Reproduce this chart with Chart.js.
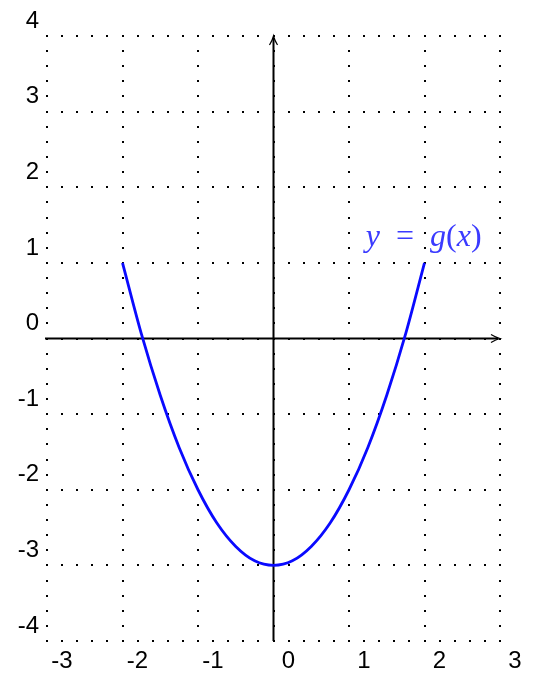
<!DOCTYPE html>
<html>
<head>
<meta charset="utf-8">
<script src="https://cdn.jsdelivr.net/npm/chart.js@4.4.0/dist/chart.umd.min.js"></script>
<style>
    html, body { margin: 0; padding: 0; background: #fff; }
    canvas { display: block; }
</style>
</head>
<body>
<canvas id="plot" width="534" height="675"></canvas>
<script>
// curve points
const xValues = [-2, -1.75, -1.5, -1.25, -1, -0.75, -0.5, -0.25, 0, 0.25, 0.5, 0.75, 1, 1.25, 1.5, 1.75, 2];
const yValues = [1, 0.06, -0.75, -1.44, -2, -2.44, -2.75, -2.94, -3, -2.94, -2.75, -2.44, -2, -1.44, -0.75, 0.06, 1];

// axis ranges / tick labels
const xTicks = [-3, -2, -1, 0, 1, 2, 3];
const yTicks = [-4, -3, -2, -1, 0, 1, 2, 3, 4];
const curveLabel = [['y', true], ['\u2002=\u2002', false], ['g', true], ['(', false], ['x', true], [')', false]];
const labelAt = { x: 1.99, y: 1.22 };

const CURVE_COLOR = '#0a0aff';
const LABEL_COLOR = '#3a3aff';

// dotted grid + axes with arrows
const gridAndAxes = {
    id: 'gridAndAxes',
    beforeDatasetsDraw(chart) {
        const { ctx, scales: { x, y } } = chart;
        ctx.save();
        ctx.fillStyle = '#000';
        // dots every 0.2 units along each grid line
        xTicks.forEach(tx => {
            const px = x.getPixelForValue(tx);
            for (let v = yTicks[0] * 5; v <= yTicks[yTicks.length - 1] * 5; v++) {
                const py = y.getPixelForValue(v / 5);
                ctx.fillRect(Math.round(px) - 1, Math.round(py) - 1, 2, 2);
            }
        });
        yTicks.forEach(ty => {
            const py = y.getPixelForValue(ty);
            for (let v = xTicks[0] * 5; v <= xTicks[xTicks.length - 1] * 5; v++) {
                const px = x.getPixelForValue(v / 5);
                ctx.fillRect(Math.round(px) - 1, Math.round(py) - 1, 2, 2);
            }
        });

        const x0 = x.getPixelForValue(0);
        const y0 = y.getPixelForValue(0);
        const left = x.getPixelForValue(-3) - 2;
        const right = x.getPixelForValue(3);
        const top = y.getPixelForValue(4);
        const bottom = y.getPixelForValue(-4);

        ctx.strokeStyle = '#000';
        ctx.lineWidth = 2;
        ctx.beginPath();
        ctx.moveTo(left, y0);
        ctx.lineTo(right - 2, y0);
        ctx.moveTo(x0, bottom);
        ctx.lineTo(x0, top + 2);
        ctx.stroke();

        // arrow heads
        ctx.lineWidth = 1.2;
        ctx.beginPath();
        ctx.moveTo(right - 9, y0 - 4);
        ctx.quadraticCurveTo(right - 4, y0 - 1, right, y0);
        ctx.quadraticCurveTo(right - 4, y0 + 1, right - 9, y0 + 4);
        ctx.moveTo(x0 - 4, top + 9);
        ctx.quadraticCurveTo(x0 - 1, top + 4, x0, top);
        ctx.quadraticCurveTo(x0 + 1, top + 4, x0 + 4, top + 9);
        ctx.stroke();
        ctx.restore();
    },
    afterDatasetsDraw(chart) {
        const { ctx, scales: { x, y } } = chart;
        ctx.save();
        ctx.fillStyle = LABEL_COLOR;
        ctx.textBaseline = 'alphabetic';
        const fontFor = it => (it ? 'italic ' : '') + '32px "Liberation Serif", "DejaVu Serif", serif';
        let total = 0;
        curveLabel.forEach(([t, it]) => { ctx.font = fontFor(it); total += ctx.measureText(t).width; });
        let px = x.getPixelForValue(labelAt.x) - total / 2;
        const py = y.getPixelForValue(labelAt.y);
        curveLabel.forEach(([t, it]) => {
            ctx.font = fontFor(it);
            ctx.fillText(t, px, py);
            px += ctx.measureText(t).width;
        });
        ctx.restore();
    }
};

const tickFont = { family: '"Liberation Sans", Arial, sans-serif', size: 24 };

new Chart(document.getElementById('plot'), {
    type: 'line',
    data: {
        datasets: [{
            data: xValues.map((xv, i) => ({ x: xv, y: yValues[i] })),
            borderColor: CURVE_COLOR,
            borderWidth: 2.8,
            pointRadius: 0,
            cubicInterpolationMode: 'monotone',
            fill: false
        }]
    },
    options: {
        responsive: false,
        animation: false,
        layout: { padding: { top: 36, right: 34 } },
        plugins: { legend: { display: false }, tooltip: { enabled: false } },
        scales: {
            x: {
                type: 'linear',
                min: xTicks[0],
                max: xTicks[xTicks.length - 1],
                grid: { display: false, drawTicks: false },
                border: { display: false },
                afterBuildTicks: s => { s.ticks = xTicks.map(v => ({ value: v })); },
                afterFit: s => { s.height = 34; },
                ticks: {
                    font: tickFont,
                    color: '#000',
                    padding: 6,
                    labelOffset: 15,
                    maxRotation: 0,
                    autoSkip: false
                }
            },
            y: {
                type: 'linear',
                min: yTicks[0],
                max: yTicks[yTicks.length - 1],
                grid: { display: false, drawTicks: false },
                border: { display: false },
                afterBuildTicks: s => { s.ticks = yTicks.map(v => ({ value: v })); },
                afterFit: s => { s.width = 47; },
                ticks: {
                    font: tickFont,
                    color: '#000',
                    padding: 8,
                    labelOffset: -15,
                    autoSkip: false
                }
            }
        }
    },
    plugins: [gridAndAxes]
});
</script>
</body>
</html>
